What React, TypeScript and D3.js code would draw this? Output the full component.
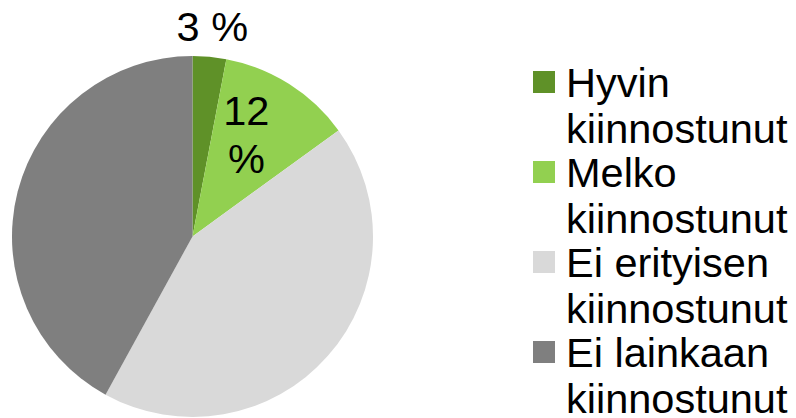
import { useEffect, useRef } from 'react';
import * as d3 from 'd3';

const categories = ['Hyvin kiinnostunut', 'Melko kiinnostunut', 'Ei erityisen kiinnostunut', 'Ei lainkaan kiinnostunut'];
const legendLines = [
  ['Hyvin', 'kiinnostunut'],
  ['Melko', 'kiinnostunut'],
  ['Ei erityisen', 'kiinnostunut'],
  ['Ei lainkaan', 'kiinnostunut'],
];
const values = [3, 12, 43, 42];
const colors = ['#5f9128', '#92d050', '#d9d9d9', '#7f7f7f'];
// only the two green slices carry a label in the original
const labelLines: (string[] | null)[] = [['3 %'], ['12', '%'], null, null];

export default function App() {
  const svgRef = useRef<SVGSVGElement>(null);

  useEffect(() => {
    if (!svgRef.current) return;
    const width = 796;
    const height = 418;
    const cx = 192.5;
    const cy = 236.5;
    const radius = 180.5;

    const svg = d3.select(svgRef.current).attr('width', width).attr('height', height);
    svg.selectAll('*').remove();

    const pie = d3.pie<number>().sort(null).value(d => d);
    const arcs = pie(values);
    const arc = d3.arc<d3.PieArcDatum<number>>().innerRadius(0).outerRadius(radius);

    const g = svg.append('g').attr('transform', `translate(${cx},${cy})`);
    g.selectAll('path')
      .data(arcs)
      .enter()
      .append('path')
      .attr('d', arc)
      .attr('fill', (_, i) => colors[i]);

    // label placement: outside for the tiny slice, inside for the 12 % slice
    const labelRadius = [210, 115];
    const labelShift = [0, -0.078];
    const fontFamily = '"Liberation Sans", Arial, sans-serif';
    const fontSize = '41.5px';

    arcs.forEach((a, i) => {
      const lines = labelLines[i];
      if (!lines) return;
      const mid = (a.startAngle + a.endAngle) / 2 + labelShift[i];
      const x = Math.sin(mid) * labelRadius[i];
      const y = -Math.cos(mid) * labelRadius[i];
      const lh = 48.5;
      const t = g.append('text')
        .attr('text-anchor', 'middle')
        .style('font-family', fontFamily)
        .style('font-size', fontSize)
        .attr('fill', '#000');
      lines.forEach((l, j) => {
        t.append('tspan')
          .attr('x', x)
          .attr('y', y + 14 + (j - (lines.length - 1) / 2) * lh)
          .text(l);
      });
    });

    const legend = svg.append('g').attr('transform', 'translate(533,71)');
    const step = 90;
    categories.forEach((c, i) => {
      const row = legend.append('g').attr('transform', `translate(0,${i * step})`);
      row.append('rect').attr('width', 22).attr('height', 22).attr('fill', colors[i]);
      const t = row.append('text')
        .style('font-family', fontFamily)
        .style('font-size', fontSize)
        .attr('fill', '#000');
      t.append('title').text(c);
      legendLines[i].forEach((l, j) => {
        t.append('tspan').attr('x', 33).attr('y', 25.7 + j * 46.6).text(l);
      });
    });
  }, []);

  return (
    <div style={{ position: 'fixed', left: 0, top: 0, width: 796, height: 418, background: '#fff' }}>
      <svg ref={svgRef} style={{ display: 'block' }} />
    </div>
  );
}
